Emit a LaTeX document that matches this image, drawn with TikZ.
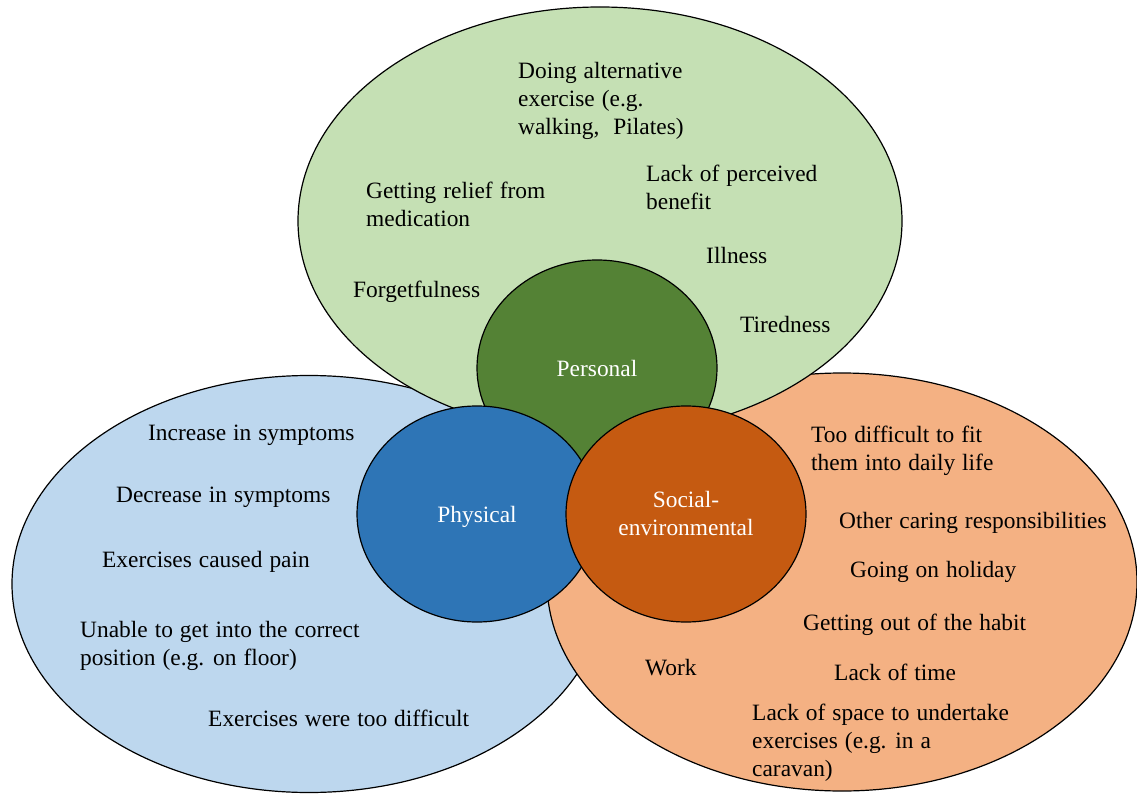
\documentclass[tikz,border=0pt]{standalone}
\usepackage{fontspec}
\setmainfont{Liberation Serif}
\usetikzlibrary{shapes.geometric}
\definecolor{lgreen}{HTML}{C5E0B4}
\definecolor{dgreen}{HTML}{548235}
\definecolor{lblue}{HTML}{BDD7EE}
\definecolor{dblue}{HTML}{2E75B6}
\definecolor{lorange}{HTML}{F4B183}
\definecolor{dorange}{HTML}{C55A11}
\begin{document}
\begin{tikzpicture}[x=1pt,y=-1pt,
  blob/.style={ellipse, draw=black, line width=1.2pt, inner sep=0pt},
  item/.style={anchor=base west, inner sep=0pt, align=left, text=black,
    font={\fontsize{23.4}{28}\selectfont\spaceskip=7pt plus 2pt minus 1pt\relax}},
  core/.style={anchor=base, inner sep=0pt, align=center, text=white,
    font={\fontsize{23.4}{28}\selectfont}}]
\useasboundingbox (0,0) rectangle (1137,794);
% big ellipses
\node[blob, fill=lblue, minimum width=594pt, minimum height=417pt] (physbig) at (309,584) {};
\node[blob, fill=lorange, minimum width=590pt, minimum height=418pt] (socbig) at (842,582) {};
\node[blob, fill=lgreen, minimum width=604pt, minimum height=428pt] (persbig) at (600,221) {};
% small ellipses
\node[blob, fill=dgreen, minimum width=240pt, minimum height=216pt] (pers) at (597,368) {};
\node[blob, fill=dblue, minimum width=240pt, minimum height=216pt] (phys) at (477,514) {};
\node[blob, fill=dorange, minimum width=240pt, minimum height=216pt] (soc) at (686,514) {};
% core labels (base = last line)
\node[core] (lpers) at (597,376) {Personal};
\node[core] (lphys) at (477,522) {Physical};
\node[core] (lsoc) at (686,535) {Social-\\environmental};
% personal items
\node[item] (p1) at (518,135) {Doing alternative\\exercise (e.g.\\walking,\ \ Pilates)};
\node[item] (p2) at (366,227) {Getting relief from\\medication};
\node[item] (p3) at (646,210) {Lack of perceived\\benefit};
\node[item] (p4) at (706,263) {Illness};
\node[item] (p5) at (353,297) {Forgetfulness};
\node[item] (p6) at (740,332) {Tiredness};
% physical items
\node[item] (b1) at (148,440) {Increase in symptoms};
\node[item] (b2) at (116,502) {Decrease in symptoms};
\node[item] (b3) at (102,567) {Exercises caused pain};
\node[item] (b4) at (80,665) {Unable to get into the correct\\position (e.g. on floor)};
\node[item] (b5) at (208,726) {Exercises were too difficult};
% social items
\node[item] (s1) at (811,470) {Too difficult to fit\\them into daily life};
\node[item] (s2) at (839,528) {Other caring responsibilities};
\node[item] (s3) at (850,577) {Going on holiday};
\node[item] (s4) at (803,630) {Getting out of the habit};
\node[item] (s5) at (645,675) {Work};
\node[item] (s6) at (834,680) {Lack of time};
\node[item] (s7) at (752,776) {Lack of space to undertake\\exercises (e.g. in a\\caravan)};
\end{tikzpicture}
\end{document}
